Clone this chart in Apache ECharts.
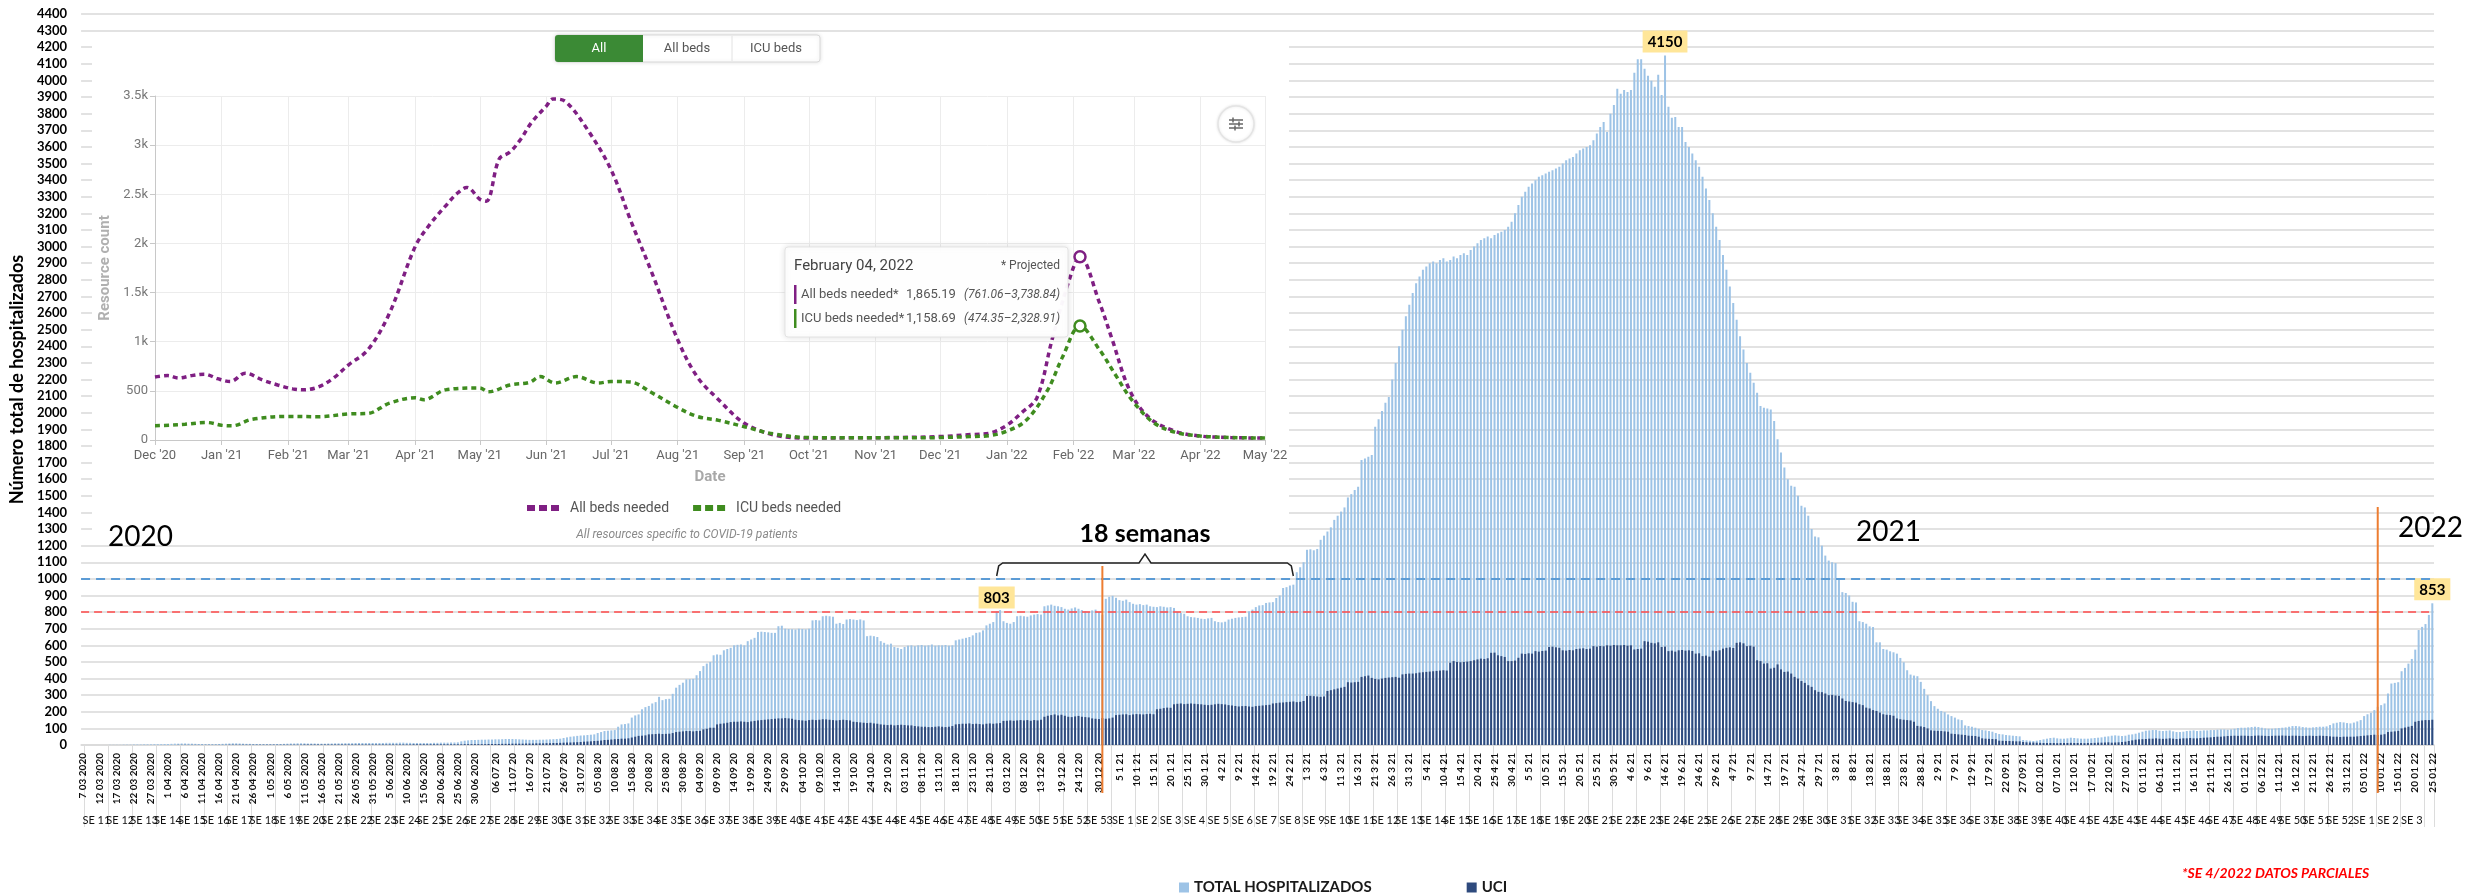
<!DOCTYPE html>
<html>
<head>
<meta charset="utf-8">
<script src="https://cdn.jsdelivr.net/npm/echarts@6/dist/echarts.min.js"></script>
<style>
  html, body { margin: 0; padding: 0; background: #fff; }
  #chart { width: 2466px; height: 894px; }
</style>
</head>
<body>
<div id="chart"></div>
<script>
// ---- hospitalizados por día (TOTAL) ----
const total_2020_03 = [0,0,0,0,0,0,0,0,1,1,1,1,2,2,2,3,3,3,4,4,4,5,5,5,6];
const total_2020_04 = [6,7,8,8,9,9,8,8,7,6,6,5,5,5,5,6,7,8,9,10,10,9,8,7,7,6,6,5,5,5];
const total_2020_05 = [5,5,6,6,7,8,9,9,10,10,10,9,9,9,8,8,8,9,9,10,10,10,11,11,11,12,12,12,12,12,12];
const total_2020_06 = [12,12,12,13,13,13,13,14,14,13,13,12,12,12,12,12,12,13,13,14,14,14,15,15,16,22,26,28,30,30];
const total_2020_07 = [31,32,32,33,33,34,34,35,36,36,36,35,34,33,32,31,31,31,32,32,33,34,35,36,38,42,46,50,52,55,57];
const total_2020_08 = [58,60,62,64,72,78,84,86,88,90,110,124,126,130,165,178,184,215,228,235,250,258,290,270,276,278,308,345,362,375,395];
const total_2020_09 = [396,398,420,445,475,490,500,540,545,543,570,578,585,600,603,605,600,625,635,645,680,682,680,678,675,675,715,718,700,698];
const total_2020_10 = [697,695,700,698,696,700,750,752,750,775,778,775,772,730,735,728,755,758,755,752,756,750,655,658,655,650,625,615,605,610,590];
const total_2020_11 = [585,578,590,598,600,595,600,602,598,600,605,598,600,600,602,598,600,630,635,640,645,650,660,675,678,690,720,730,740,803];
const total_2020_12 = [812,745,735,730,740,775,778,775,772,780,785,788,785,835,840,845,838,835,830,820,815,822,828,820,812,805,800,810,815,800,785];
const total_2021_01 = [880,892,898,886,872,868,875,860,850,845,848,842,845,835,832,830,835,832,828,830,825,800,795,790,775,770,768,765,760,758,762];
const total_2021_02 = [765,745,740,738,742,755,760,765,768,770,772,805,815,830,840,842,855,858,860,885,900,945,950,960,965,1040,1070,1100];
const total_2021_03 = [1175,1178,1172,1180,1235,1260,1285,1310,1355,1380,1405,1430,1490,1510,1535,1555,1715,1725,1735,1745,1915,1960,2010,2060,2095,2200,2300,2400,2500,2580,2650];
const total_2021_04 = [2720,2780,2820,2860,2880,2900,2910,2900,2920,2930,2910,2920,2940,2930,2950,2960,2950,2980,3000,3020,3040,3050,3060,3050,3070,3080,3090,3100,3120,3150];
const total_2021_05 = [3200,3250,3300,3330,3360,3380,3400,3420,3430,3440,3450,3460,3470,3480,3500,3520,3530,3540,3560,3580,3590,3600,3610,3640,3680,3720,3750,3690,3800,3853,3950];
const total_2021_06 = [3920,3943,3930,3943,4046,4128,4128,4070,4028,3998,3962,4034,3913,4150,3842,3775,3780,3720,3720,3630,3600,3560,3520,3480,3420,3350,3280,3200,3120,3040];
const total_2021_07 = [2950,2860,2760,2660,2560,2460,2380,2300,2240,2180,2120,2040,2030,2025,2020,1950,1840,1760,1670,1600,1560,1555,1500,1440,1430,1380,1300,1255,1250,1200,1140];
const total_2021_08 = [1110,1100,1095,1000,920,915,900,862,858,745,740,730,714,710,618,618,578,574,564,558,550,524,498,450,424,418,414,380,338,300,264];
const total_2021_09 = [234,218,205,198,184,174,165,154,150,118,114,110,104,98,90,88,84,80,72,66,64,60,58,56,54,52,30,28,26,24];
const total_2021_10 = [26,30,34,38,42,44,40,38,38,40,44,42,40,38,38,38,40,42,44,46,50,52,56,58,56,54,56,62,64,68,74];
const total_2021_11 = [80,86,88,90,90,86,84,86,88,82,78,78,80,84,86,88,84,86,88,88,90,90,92,94,94,92,94,98,102,104];
const total_2021_12 = [104,106,108,110,108,104,100,98,98,100,102,104,106,110,114,114,112,108,106,104,106,108,110,110,112,120,130,134,138,136,132];
const total_2022_01 = [130,135,142,150,174,185,194,210,230,240,250,310,370,374,378,444,464,490,518,574,692,711,728,783,853];

// ---- UCI por día ----
const uci_2020_03 = [0,0,0,0,0,0,0,0,0,0,0,0,0,0,0,0,0,0,0,0,0,0,0,0,0];
const uci_2020_04 = [0,0,0,1,1,1,1,1,1,1,1,1,1,1,1,1,1,1,2,2,2,2,2,2,2,2,2,2,2,2];
const uci_2020_05 = [2,2,2,2,2,2,2,2,2,2,3,3,3,3,3,3,3,3,3,3,3,3,3,3,3,3,3,3,3,3,3];
const uci_2020_06 = [3,3,3,3,3,3,3,3,3,3,3,4,4,4,4,4,4,4,4,4,4,4,4,4,4,4,5,5,5,5];
const uci_2020_07 = [5,5,5,6,6,6,6,7,7,7,8,8,8,8,9,9,9,10,10,10,11,11,12,12,13,14,15,15,16,17,18];
const uci_2020_08 = [20,21,22,24,25,27,30,31,33,35,36,38,38,40,45,50,55,56,58,64,65,66,68,66,67,68,72,78,80,82,84];
const uci_2020_09 = [84,82,84,85,94,98,104,104,124,128,130,134,138,140,140,142,140,138,142,145,148,150,152,154,156,158,160,160,162,160];
const uci_2020_10 = [158,152,150,148,146,150,152,150,152,155,154,152,150,148,150,152,150,148,140,138,136,134,132,134,130,128,124,122,120,122,118];
const uci_2020_11 = [120,122,120,118,118,114,112,110,110,108,108,110,112,110,108,110,114,124,126,128,128,130,126,128,126,124,128,130,128,130];
const uci_2020_12 = [132,145,146,148,146,148,150,148,150,146,150,148,152,170,176,180,184,178,182,176,170,168,172,175,170,168,166,160,158,156,162];
const uci_2021_01 = [158,160,165,180,182,184,185,180,184,186,185,184,186,188,185,215,218,222,225,224,245,248,250,246,248,250,248,246,245,242,240];
const uci_2021_02 = [242,245,248,246,244,240,238,235,232,234,235,232,230,234,236,238,240,242,250,252,255,256,258,260,262,258,260,265];
const uci_2021_03 = [295,296,294,292,290,292,325,330,335,340,345,350,378,376,378,380,410,414,418,404,398,395,400,404,406,408,410,405,425,428,430];
const uci_2021_04 = [430,432,436,438,440,442,444,446,448,450,448,495,505,500,498,500,502,505,510,515,520,518,522,555,556,540,535,530,505,505];
const uci_2021_05 = [508,525,550,548,552,550,565,562,566,568,590,592,588,585,570,568,572,570,578,580,582,578,580,595,592,596,594,600,598,602,600];
const uci_2021_06 = [600,602,598,600,575,578,580,625,622,615,612,618,590,592,565,568,562,570,572,568,570,566,550,552,535,538,532,568,565,570];
const uci_2021_07 = [580,585,588,584,615,618,612,595,598,592,510,505,490,492,460,465,485,455,440,442,430,410,400,385,374,360,350,330,320,318,310];
const uci_2021_08 = [300,302,298,296,280,265,262,258,255,245,240,225,220,210,205,195,185,182,180,176,160,155,152,150,148,140,115,112,108,100,88];
const uci_2021_09 = [86,85,84,82,80,68,66,64,62,60,56,55,54,50,40,38,37,36,35,26,25,24,24,23,22,22,18,16,15,15];
const uci_2021_10 = [14,13,12,12,12,12,11,12,12,12,13,12,12,12,11,12,12,13,14,14,15,16,14,15,16,18,20,24,28,32,34];
const uci_2021_11 = [35,36,38,38,40,38,37,38,40,38,36,38,40,40,42,40,40,42,44,45,46,48,50,50,52,54,55,56,55,56];
const uci_2021_12 = [56,55,54,56,57,56,55,54,55,56,56,57,56,55,56,56,55,54,55,56,55,54,56,55,54,52,50,50,48,50,50];
const uci_2022_01 = [50,50,52,54,56,58,60,62,60,62,65,78,80,82,85,100,105,110,115,140,145,148,150,150,152];

// [año, mes, primer día, total, uci]
const months = [
  [2020, 3, 7, total_2020_03, uci_2020_03], [2020, 4, 1, total_2020_04, uci_2020_04],
  [2020, 5, 1, total_2020_05, uci_2020_05], [2020, 6, 1, total_2020_06, uci_2020_06],
  [2020, 7, 1, total_2020_07, uci_2020_07], [2020, 8, 1, total_2020_08, uci_2020_08],
  [2020, 9, 1, total_2020_09, uci_2020_09], [2020, 10, 1, total_2020_10, uci_2020_10],
  [2020, 11, 1, total_2020_11, uci_2020_11], [2020, 12, 1, total_2020_12, uci_2020_12],
  [2021, 1, 1, total_2021_01, uci_2021_01], [2021, 2, 1, total_2021_02, uci_2021_02],
  [2021, 3, 1, total_2021_03, uci_2021_03], [2021, 4, 1, total_2021_04, uci_2021_04],
  [2021, 5, 1, total_2021_05, uci_2021_05], [2021, 6, 1, total_2021_06, uci_2021_06],
  [2021, 7, 1, total_2021_07, uci_2021_07], [2021, 8, 1, total_2021_08, uci_2021_08],
  [2021, 9, 1, total_2021_09, uci_2021_09], [2021, 10, 1, total_2021_10, uci_2021_10],
  [2021, 11, 1, total_2021_11, uci_2021_11], [2021, 12, 1, total_2021_12, uci_2021_12],
  [2022, 1, 1, total_2022_01, uci_2022_01]
];

// fechas donde empieza una tanda de etiquetas cada 5 días
const tickAnchors = ['2020-03-07', '2020-07-06', '2020-12-19', '2020-12-24', '2020-12-30', '2021-01-05'];
// inicio de la semana epidemiológica 1 de cada año
const epiWeekOne = ['2019-12-29', '2021-01-03', '2022-01-02'];
const labelledDates = ['2020-11-30', '2021-06-14', '2022-01-25'];

// ---- gráfico insertado (proyección) ----
const allBedsNeeded = [
  ['2020-12-01',640],['2020-12-07',655],['2020-12-12',630],['2020-12-18',655],['2020-12-24',670],['2020-12-30',625],
  ['2021-01-05',595],['2021-01-12',680],['2021-01-20',610],['2021-01-27',560],['2021-02-03',520],['2021-02-08',510],
  ['2021-02-15',540],['2021-02-22',630],['2021-03-01',765],['2021-03-10',918],['2021-03-20',1290],['2021-04-01',1970],
  ['2021-04-08',2200],['2021-04-15',2380],['2021-04-20',2500],['2021-04-25',2570],['2021-05-01',2450],['2021-05-04',2430],
  ['2021-05-10',2860],['2021-05-15',2930],['2021-05-20',3060],['2021-05-25',3230],['2021-06-01',3400],['2021-06-04',3470],
  ['2021-06-10',3440],['2021-06-20',3160],['2021-07-01',2750],['2021-07-10',2240],['2021-07-20',1700],['2021-08-01',1020],
  ['2021-08-10',645],['2021-08-20',410],['2021-09-01',170],['2021-09-15',50],['2021-10-01',20],['2021-10-20',22],
  ['2021-11-10',25],['2021-12-01',35],['2021-12-15',55],['2021-12-24',70],['2022-01-01',150],['2022-01-08',280],
  ['2022-01-15',430],['2022-01-22',1020],['2022-01-30',1630],['2022-02-04',1865],['2022-02-13',1400],['2022-02-19',1020],
  ['2022-02-27',510],['2022-03-08',230],['2022-03-20',90],['2022-04-01',40],['2022-04-15',25],['2022-05-01',20]
];
const icuBedsNeeded = [
  ['2020-12-01',145],['2020-12-08',150],['2020-12-15',160],['2020-12-25',178],['2021-01-01',150],['2021-01-06',145],
  ['2021-01-15',210],['2021-02-01',240],['2021-02-15',237],['2021-03-01',265],['2021-03-10',270],['2021-03-20',375],
  ['2021-04-01',430],['2021-04-05',410],['2021-04-15',510],['2021-05-01',530],['2021-05-05',490],['2021-05-15',560],
  ['2021-05-24',585],['2021-05-29',645],['2021-06-05',580],['2021-06-15',645],['2021-06-25',580],['2021-07-01',595],
  ['2021-07-10',590],['2021-07-20',480],['2021-08-01',330],['2021-08-10',240],['2021-08-20',200],['2021-09-01',135],
  ['2021-09-15',60],['2021-10-01',25],['2021-10-20',22],['2021-11-10',22],['2021-12-01',25],['2021-12-15',35],
  ['2021-12-24',45],['2022-01-01',90],['2022-01-10',200],['2022-01-20',510],['2022-01-27',850],['2022-02-04',1159],
  ['2022-02-13',920],['2022-02-21',645],['2022-02-28',410],['2022-03-10',180],['2022-03-20',80],['2022-04-01',40],
  ['2022-04-15',25],['2022-05-01',20]
];
const insetStart = '2020-12-01';
const insetEnd = '2022-05-01';
const projectedDate = '2022-02-04';
const todayDate = '2022-01-20';
const monthNames = ['Jan','Feb','Mar','Apr','May','Jun','Jul','Aug','Sep','Oct','Nov','Dec'];

// ---------------------------------------------------------------
const F = 'Lato, "Liberation Sans", sans-serif';
const IF = 'Roboto, "Liberation Sans", sans-serif';
const LIGHT = '#9dc3e6';
const DARK = '#2e4a7d';
const PURPLE = '#7f1f83';
const GREEN = '#3f8c1f';
const DAY = 86400000;
const DASH_ICON = 'path://M0,0h8v6h-8zM12,0h8v6h-8zM24,0h8v6h-8z';
const pad = n => String(n).padStart(2, '0');
const toT = s => Date.parse(s + 'T00:00:00Z');

const categories = [], totalValues = [], uciValues = [];
months.forEach(([y, m, d0, t, u]) => {
  t.forEach((v, i) => {
    categories.push(y + '-' + pad(m) + '-' + pad(d0 + i));
    totalValues.push(v);
    uciValues.push(u[i]);
  });
});

function dateLabel(c) {
  const [y, m, d] = c.split('-').map(Number);
  const yy = String(y).slice(2);
  if (c <= '2020-06-30') return d + ' ' + pad(m) + ' ' + y;
  if (c <= '2020-12-31') return pad(d) + ' ' + pad(m) + ' ' + yy;
  if (c <= '2021-09-17') return d + ' ' + m + ' ' + yy;
  return pad(d) + ' ' + pad(m) + ' ' + yy;
}

const dateTickIdx = new Set();
categories.forEach((c, i) => {
  const t = toT(c);
  let a = 0;
  tickAnchors.forEach((s, k) => { if (toT(s) <= t) a = k; });
  const da = Math.round((t - toT(tickAnchors[a])) / DAY);
  const next = a + 1 < tickAnchors.length ? toT(tickAnchors[a + 1]) : Infinity;
  if (da % 5 === 0 && t <= next - 5 * DAY) dateTickIdx.add(i);
});

// semanas epidemiológicas
const weekNo = categories.map(c => {
  const t = toT(c);
  let s = toT(epiWeekOne[0]);
  epiWeekOne.forEach(d => { if (toT(d) <= t) s = toT(d); });
  return Math.floor((t - s) / DAY / 7) + 1;
});
const weekMid = new Map();
let runStart = 0;
for (let i = 1; i <= categories.length; i++) {
  if (i === categories.length || weekNo[i] !== weekNo[i - 1]) {
    weekMid.set(Math.floor((runStart + i - 1) / 2), 'SE ' + weekNo[runStart]);
    runStart = i;
  }
}
const isSunday = categories.map(c => new Date(toT(c)).getUTCDay() === 0);

const totalData = totalValues.map((v, i) => labelledDates.includes(categories[i]) ? {
  value: v,
  label: {
    show: true, position: 'top', distance: 3,
    backgroundColor: '#ffe699', padding: [4, 5, 3, 5],
    fontFamily: F, fontWeight: 'bold', fontSize: 15, color: '#000'
  }
} : v);

const insetDays = [];
for (let t = toT(insetStart); t <= toT(insetEnd); t += DAY) insetDays.push(new Date(t).toISOString().slice(0, 10));

function withMarker(list, color) {
  return list.map(p => p[0] === projectedDate ? {
    value: p, symbol: 'circle', symbolSize: 11,
    itemStyle: { color: '#fff', borderColor: color, borderWidth: 2.5 }
  } : p);
}

const chart = echarts.init(document.getElementById('chart'));

chart.setOption({
  animation: false,
  grid: [
    { left: 76, right: 32, top: 14, bottom: 149 },
    { left: 155, right: 1201, top: 96, bottom: 454 }
  ],
  legend: [
    {
      data: ['TOTAL HOSPITALIZADOS', 'UCI'],
      left: 1174, top: 875, icon: 'rect', itemWidth: 10, itemHeight: 10, itemGap: 95,
      selectedMode: false,
      textStyle: { fontFamily: F, fontWeight: 'bold', fontSize: 15, color: '#1a1a1a' }
    },
    {
      data: [{ name: 'All beds needed', icon: DASH_ICON }, { name: 'ICU beds needed', icon: DASH_ICON }],
      left: 522, top: 496, itemWidth: 32, itemHeight: 6, itemGap: 24, z: 12,
      selectedMode: false,
      textStyle: { fontFamily: IF, fontSize: 14, color: '#555', padding: [0, 0, 0, 6] }
    }
  ],
  xAxis: [
    {
      type: 'category', gridIndex: 0, data: categories, position: 'bottom',
      axisLine: { lineStyle: { color: '#d9d9d9', width: 1.5 } },
      axisTick: { show: false },
      axisLabel: {
        rotate: 90, margin: 8, fontFamily: F, fontWeight: 'bold', fontSize: 10, color: '#111',
        interval: i => dateTickIdx.has(i),
        formatter: v => dateLabel(v)
      },
      splitLine: { show: false }
    },
    {
      type: 'category', gridIndex: 0, data: categories, position: 'bottom',
      axisLine: { show: false },
      axisTick: { show: true, length: 82, interval: i => isSunday[i], lineStyle: { color: '#dcdcdc' } },
      axisLabel: {
        margin: 70, fontFamily: F, fontSize: 11, color: '#111',
        interval: i => weekMid.has(i),
        formatter: (v, i) => weekMid.get(i) || ''
      },
      splitLine: { show: false }
    },
    {
      type: 'category', gridIndex: 1, data: insetDays, boundaryGap: false, z: 11,
      axisLine: { lineStyle: { color: '#c8c8c8' } },
      axisTick: { interval: (i, v) => v.endsWith('-01'), length: 5, lineStyle: { color: '#c8c8c8' } },
      axisLabel: {
        interval: (i, v) => v.endsWith('-01'), margin: 9, fontFamily: IF, fontSize: 13, color: '#666',
        formatter: v => monthNames[+v.slice(5, 7) - 1] + " '" + v.slice(2, 4)
      },
      splitLine: { show: true, interval: (i, v) => v.endsWith('-01'), lineStyle: { color: '#ececec' } },
      name: 'Date', nameLocation: 'middle', nameGap: 30,
      nameTextStyle: { fontFamily: IF, fontWeight: 'bold', fontSize: 15, color: '#a8a8a8' }
    }
  ],
  yAxis: [
    {
      type: 'value', gridIndex: 0, min: 0, max: 4400, interval: 100,
      axisLine: { show: false }, axisTick: { show: false },
      axisLabel: { fontFamily: F, fontWeight: 'bold', fontSize: 13, color: '#000', margin: 14, formatter: v => String(v) },
      splitLine: { lineStyle: { color: '#d9d9d9', width: 1.5 } },
      name: 'Número total de hospitalizados', nameLocation: 'middle', nameGap: 47,
      nameTextStyle: { fontFamily: F, fontWeight: 'bold', fontSize: 18, color: '#000' }
    },
    {
      type: 'value', gridIndex: 1, min: 0, max: 3500, interval: 500, z: 11,
      axisLine: { show: true, lineStyle: { color: '#c8c8c8' } },
      axisTick: { show: true, length: 5, lineStyle: { color: '#c8c8c8' } },
      axisLabel: {
        fontFamily: IF, fontSize: 13, color: '#777', margin: 7,
        formatter: v => v >= 1000 ? (v / 1000) + 'k' : String(v)
      },
      splitLine: { lineStyle: { color: '#ececec' } },
      name: 'Resource count', nameLocation: 'middle', nameGap: 42,
      nameTextStyle: { fontFamily: IF, fontWeight: 'bold', fontSize: 15, color: '#b0b0b0' }
    }
  ],
  series: [
    {
      name: 'TOTAL HOSPITALIZADOS', type: 'bar', xAxisIndex: 0, yAxisIndex: 0,
      data: totalData, barWidth: 2, barGap: '-100%', itemStyle: { color: LIGHT },
      markLine: {
        silent: true, symbol: 'none', label: { show: false },
        data: [
          { yAxis: 1000, lineStyle: { color: '#5b9bd5', type: [9, 6], width: 2 } },
          { yAxis: 800, lineStyle: { color: '#ff4b4b', type: [8, 5], width: 1.5 } }
        ]
      }
    },
    {
      name: 'UCI', type: 'bar', xAxisIndex: 0, yAxisIndex: 0,
      data: uciValues, barWidth: 2, barGap: '-100%', itemStyle: { color: DARK }
    },
    {
      name: 'All beds needed', type: 'line', xAxisIndex: 2, yAxisIndex: 1, z: 12,
      data: withMarker(allBedsNeeded, PURPLE), smooth: 0.35, symbol: 'none', showAllSymbol: true,
      itemStyle: { color: PURPLE },
      lineStyle: { color: PURPLE, width: 3.5, type: [5, 4] },
      markLine: {
        silent: true, symbol: 'none',
        data: [
          { xAxis: todayDate, lineStyle: { color: '#a0a0a0', type: [4, 3], width: 1 },
            label: { show: true, position: 'end', formatter: 'Today', distance: 6, fontFamily: IF, fontSize: 12, color: '#666' } },
          { xAxis: projectedDate, lineStyle: { color: '#808080', type: 'solid', width: 1.5 }, label: { show: false } }
        ]
      }
    },
    {
      name: 'ICU beds needed', type: 'line', xAxisIndex: 2, yAxisIndex: 1, z: 12,
      data: withMarker(icuBedsNeeded, GREEN), smooth: 0.35, symbol: 'none', showAllSymbol: true,
      itemStyle: { color: GREEN },
      lineStyle: { color: GREEN, width: 3.5, type: [5, 4] }
    }
  ]
});

// ---- recuadro del gráfico insertado y anotaciones ----
function txt(text, x, y, font, fill, align, z) {
  return {
    type: 'text', z: z || 16, silent: true,
    style: { text: text, x: x, y: y, font: font, fill: fill, textAlign: align || 'left', align: align || 'left', textVerticalAlign: 'middle', verticalAlign: 'middle' }
  };
}

const px = c => chart.convertToPixel({ xAxisIndex: 0 }, c);
const xYearEnd = px('2020-12-31');
const xNewWave = px('2022-01-09');
const xBraceL = px('2020-11-30');
const xBraceR = px('2021-02-25');
const xBraceC = (xBraceL + xBraceR) / 2;

chart.setOption({
  graphic: [
    { type: 'rect', z: 10, silent: true, shape: { x: 92, y: 33, width: 1197, height: 508 }, style: { fill: '#fff' } },
    // botones
    { type: 'rect', z: 13, silent: true, shape: { x: 555, y: 35, width: 265, height: 27, r: 3 },
      style: { fill: '#fff', stroke: '#d9d9d9', lineWidth: 1, shadowBlur: 4, shadowColor: 'rgba(0,0,0,0.12)' } },
    { type: 'rect', z: 14, silent: true, shape: { x: 555, y: 35, width: 88, height: 27, r: [3, 0, 0, 3] }, style: { fill: '#3b8a35' } },
    { type: 'line', z: 14, silent: true, shape: { x1: 732, y1: 36, x2: 732, y2: 61 }, style: { stroke: '#e2e2e2' } },
    txt('All', 599, 49, '13px ' + IF, '#fff', 'center'),
    txt('All beds', 687, 49, '13px ' + IF, '#555', 'center'),
    txt('ICU beds', 776, 49, '13px ' + IF, '#555', 'center'),
    // icono de ajustes
    { type: 'circle', z: 13, silent: true, shape: { cx: 1236, cy: 124, r: 18 },
      style: { fill: '#fff', stroke: '#e4e4e4', lineWidth: 1.5, shadowBlur: 3, shadowColor: 'rgba(0,0,0,0.1)' } },
    { type: 'line', z: 14, silent: true, shape: { x1: 1229, y1: 120, x2: 1243, y2: 120 }, style: { stroke: '#666', lineWidth: 1.5 } },
    { type: 'line', z: 14, silent: true, shape: { x1: 1229, y1: 124, x2: 1243, y2: 124 }, style: { stroke: '#666', lineWidth: 1.5 } },
    { type: 'line', z: 14, silent: true, shape: { x1: 1229, y1: 128, x2: 1243, y2: 128 }, style: { stroke: '#666', lineWidth: 1.5 } },
    { type: 'line', z: 14, silent: true, shape: { x1: 1233, y1: 117.5, x2: 1233, y2: 122.5 }, style: { stroke: '#666', lineWidth: 1.5 } },
    { type: 'line', z: 14, silent: true, shape: { x1: 1239, y1: 121.5, x2: 1239, y2: 126.5 }, style: { stroke: '#666', lineWidth: 1.5 } },
    { type: 'line', z: 14, silent: true, shape: { x1: 1235, y1: 125.5, x2: 1235, y2: 130.5 }, style: { stroke: '#666', lineWidth: 1.5 } },
    // cuadro de detalle
    { type: 'rect', z: 15, silent: true, shape: { x: 785, y: 247, width: 283, height: 90, r: 3 },
      style: { fill: 'rgba(255,255,255,0.97)', stroke: '#e3e3e3', lineWidth: 1, shadowBlur: 6, shadowColor: 'rgba(0,0,0,0.12)' } },
    txt('February 04, 2022', 794, 266, '15px ' + IF, '#444', 'left'),
    txt('* Projected', 1060, 266, '12px ' + IF, '#555', 'right'),
    { type: 'rect', z: 16, silent: true, shape: { x: 794, y: 285, width: 2.5, height: 19 }, style: { fill: PURPLE } },
    { type: 'rect', z: 16, silent: true, shape: { x: 794, y: 309, width: 2.5, height: 19 }, style: { fill: GREEN } },
    txt('All beds needed*', 801, 295, '13px ' + IF, '#555', 'left'),
    txt('1,865.19', 906, 295, '13px ' + IF, '#555', 'left'),
    txt('(761.06–3,738.84)', 1060, 295, 'italic 12px ' + IF, '#555', 'right'),
    txt('ICU beds needed*', 801, 319, '13px ' + IF, '#555', 'left'),
    txt('1,158.69', 906, 319, '13px ' + IF, '#555', 'left'),
    txt('(474.35–2,328.91)', 1060, 319, 'italic 12px ' + IF, '#555', 'right'),
    txt('All resources specific to COVID-19 patients', 687, 535, 'italic 12px ' + IF, '#8a8a8a', 'center'),
    // anotaciones del gráfico principal
    txt('2020', 108, 537, '28px ' + F, '#000', 'left', 20),
    txt('2021', 1856, 532, '28px ' + F, '#000', 'left', 20),
    txt('2022', 2398, 528, '28px ' + F, '#000', 'left', 20),
    txt('18 semanas', xBraceC, 534, 'bold 25px ' + F, '#000', 'center', 20),
    { type: 'polyline', z: 20, silent: true,
      shape: { points: [[xBraceL, 576], [xBraceL + 2, 566], [xBraceL + 6, 563], [xBraceC - 6, 563], [xBraceC, 554],
                        [xBraceC + 6, 563], [xBraceR - 6, 563], [xBraceR - 2, 566], [xBraceR, 576]] },
      style: { stroke: '#222', lineWidth: 1.5, fill: null } },
    { type: 'line', z: 20, silent: true, shape: { x1: xYearEnd, y1: 566, x2: xYearEnd, y2: 793 }, style: { stroke: '#ed7d31', lineWidth: 2 } },
    { type: 'line', z: 20, silent: true, shape: { x1: xNewWave, y1: 507, x2: xNewWave, y2: 793 }, style: { stroke: '#ed7d31', lineWidth: 2 } },
    txt('*SE 4/2022 DATOS PARCIALES', 2182, 873, 'italic bold 14px ' + F, '#ff0000', 'left', 20)
  ]
});
</script>
</body>
</html>
